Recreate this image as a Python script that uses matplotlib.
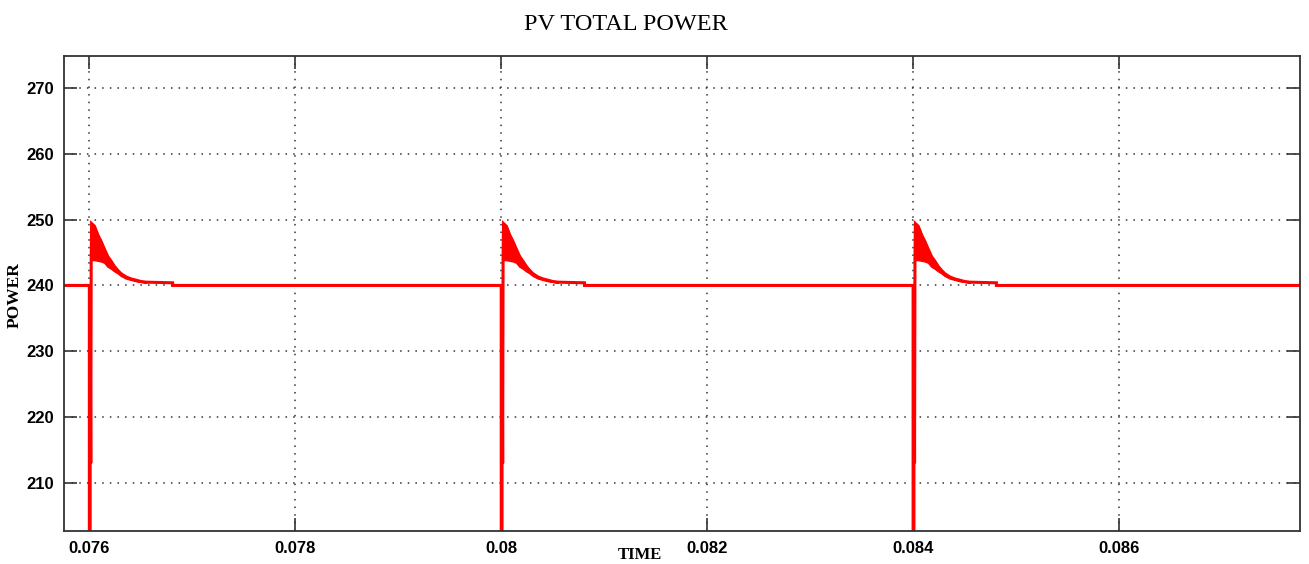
import numpy as np
import matplotlib.pyplot as plt

# simulation window and axis limits
x_lim = (0.075754, 0.087757)
y_lim = (202.7, 274.85)
x_ticks = [0.076, 0.078, 0.080, 0.082, 0.084, 0.086]
x_tick_labels = ["0.076", "0.078", "0.08", "0.082", "0.084", "0.086"]
y_ticks = [210, 220, 230, 240, 250, 260, 270]

# switching instants (s)
events = [0.0760, 0.0800, 0.0840]
baseline = 240.0

# transient right after each switching instant (offsets in microseconds)
spike_t = [0, 0, 8, 8, 14, 14, 18, 22]
spike_p = [240.0, 195.0, 195.0, 238.4, 213.0, 213.0, 244.0, 249.4]

# decaying ripple band: upper / lower envelope (offsets in microseconds)
env_t = [22, 49, 81, 113, 146, 178, 210, 243, 275, 307, 356, 404, 453, 501, 550]
env_hi = [249.4, 249.0, 247.7, 246.7, 245.5, 244.4, 243.7, 242.9, 242.3, 241.8,
          241.3, 241.0, 240.8, 240.6, 240.5]
env_lo = [243.9, 243.9, 243.8, 243.7, 243.5, 242.9, 242.6, 242.2, 241.9, 241.5,
          241.1, 240.9, 240.7, 240.6, 240.5]

# slow tail back to the steady value
tail_t = [809, 809]
tail_p = [240.4, 240.0]

t_all = [x_lim[0]]
p_all = [baseline]
for t0 in events:
    t_all += [t0 + o * 1e-6 for o in spike_t + env_t + tail_t]
    p_all += spike_p + env_hi + tail_p
t_all.append(x_lim[1])
p_all.append(baseline)

fig = plt.figure(figsize=(13.09, 5.64), dpi=100)
ax = fig.add_axes([0.0489, 0.0585, 0.9442, 0.8422])

red = "#ff0000"
ax.plot(t_all, p_all, color=red, lw=2.2, solid_joinstyle="miter")
for t0 in events:
    tt = [t0 + o * 1e-6 for o in env_t]
    ax.fill_between(tt, env_lo, env_hi, color=red, lw=1.5, edgecolor=red)

ax.set_xlim(*x_lim)
ax.set_ylim(*y_lim)
ax.set_xticks(x_ticks)
ax.set_xticklabels(x_tick_labels)
ax.set_yticks(y_ticks)

ax.grid(True, linestyle=(0, (1, 4)), color="#333333", lw=1.1)
ax.tick_params(direction="in", length=9.5, width=1.2, color="#333333",
               top=True, right=True, labelsize=12, pad=7)
for lab in ax.get_xticklabels() + ax.get_yticklabels():
    lab.set_family(["Liberation Sans Narrow", "Liberation Sans", "DejaVu Sans"])
    lab.set_fontweight("bold")
for s in ax.spines.values():
    s.set_color("#333333")
    s.set_linewidth(1.3)

serif = ["Liberation Serif", "DejaVu Serif"]
fig.text(626 / 1309, 1 - 24 / 564, "PV TOTAL POWER", ha="center", va="center",
         family=serif, fontsize=17.5)
fig.text(640 / 1309, 1 - 555 / 564, "TIME", ha="center", va="center",
         family=serif, fontsize=12, fontweight="bold")
fig.text(15 / 1309, 1 - 295 / 564, "POWER", ha="center", va="center",
         rotation=90, family=serif, fontsize=12.5, fontweight="bold")

fig.savefig("out.png", dpi=100)
